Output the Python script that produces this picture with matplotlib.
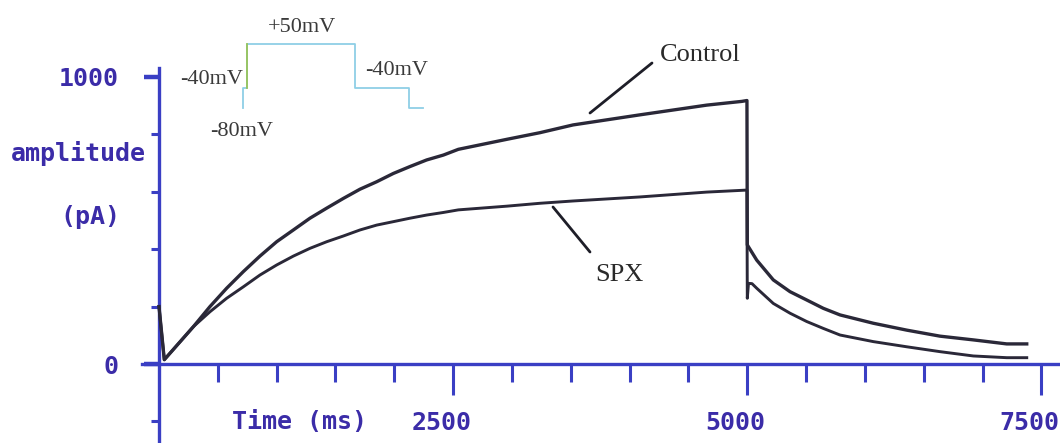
import matplotlib
matplotlib.use("Agg")
import matplotlib.pyplot as plt
from matplotlib.ticker import FixedLocator
from matplotlib.transforms import ScaledTranslation

# ---------------- data ----------------
control_t = [0, 45, 292, 433, 575, 717, 858, 1000, 1142, 1283, 1425, 1567, 1708, 1850,
             1992, 2133, 2275, 2417, 2544, 2958, 3238, 3519, 4085, 4655, 4953, 4997,
             5000, 5080, 5221, 5363, 5505, 5646, 5788, 6071, 6355, 6638, 6921, 7205, 7375]
control_pA = [200, 15, 130, 200, 264, 322, 376, 426, 467, 508, 543, 577, 609, 635,
              664, 688, 711, 728, 748, 783, 806, 833, 868, 902, 915, 918,
              415, 362, 293, 252, 223, 194, 171, 142, 118, 97, 84, 70, 70]

spx_t = [0, 45, 292, 433, 575, 717, 858, 1000, 1142, 1283, 1425, 1567, 1708, 1850,
         1992, 2133, 2275, 2417, 2544, 2958, 3238, 3519, 4085, 4655, 4997,
         5000, 5010, 5040, 5080, 5221, 5363, 5505, 5646, 5788, 6071, 6355, 6638,
         6921, 7205, 7375]
spx_pA = [200, 15, 130, 182, 229, 269, 310, 345, 376, 403, 426, 446, 467, 484,
          496, 508, 519, 528, 537, 550, 560, 568, 582, 599, 606,
          229, 281, 280, 264, 211, 177, 148, 124, 101, 78, 60, 43,
          28, 22, 22]

# voltage protocol (inset)
protocol_t = [-200, -200, 0, 5000, 7500, 8150]
protocol_mV = [-80, -40, 50, -40, -80, -80]

x_major = [2500, 5000, 7500]
x_major_labels = ["2500", "5000", "7500"]
x_minor = [500, 1000, 1500, 2000, 3000, 3500, 4000, 4500, 5500, 6000, 6500, 7000]
y_major = [0, 1000]
y_major_labels = ["0", "1000"]
y_minor = [-200, 200, 400, 600, 800]

# ---------------- style ----------------
AXIS_BLUE = "#3a3fc4"
TEXT_BLUE = "#3b2ca8"
TRACE = "#2a2838"
MONO = "DejaVu Sans Mono"
SERIF = "Liberation Serif"

W, H = 1060, 443
fig = plt.figure(figsize=(W / 100, H / 100), dpi=100)
fig.patch.set_facecolor("white")
ax = fig.add_axes([0, 0, 1, 1])

x0px, sx = 159.0, 0.11766   # pixel of t=0, px per ms
y0px, sy = 364.0, 0.287     # pixel of 0 pA, px per pA
ax.set_xlim(-x0px / sx, (W - x0px) / sx)
ax.set_ylim(-(H - y0px) / sy, y0px / sy)

for s in ["top", "right"]:
    ax.spines[s].set_visible(False)
ax.spines["left"].set_position(("data", 0))
ax.spines["bottom"].set_position(("data", 0))
for s in ["left", "bottom"]:
    ax.spines[s].set_color(AXIS_BLUE)
    ax.spines[s].set_linewidth(2.4)
    ax.spines[s].set_zorder(1)
ax.spines["left"].set_bounds(-(H - y0px) / sy, (y0px - 68) / sy)
ax.spines["bottom"].set_bounds((142 - x0px) / sx, (W - x0px) / sx)

# x ticks
ax.xaxis.set_major_locator(FixedLocator(x_major))
ax.set_xticklabels(x_major_labels)
ax.xaxis.set_minor_locator(FixedLocator(x_minor))
ax.tick_params(axis="x", which="major", direction="out", length=22, width=2.2,
               color=AXIS_BLUE, pad=12, labelsize=18, labelcolor=TEXT_BLUE)
ax.tick_params(axis="x", which="minor", direction="out", length=13, width=2.2,
               color=AXIS_BLUE)
for lab in ax.get_xticklabels():
    lab.set_fontfamily(MONO)
    lab.set_fontweight("bold")
    lab.set_transform(lab.get_transform() + ScaledTranslation(-12 / 100, 0, fig.dpi_scale_trans))

# y ticks
ax.yaxis.set_major_locator(FixedLocator(y_major))
ax.set_yticklabels(y_major_labels)
ax.yaxis.set_minor_locator(FixedLocator(y_minor))
ax.tick_params(axis="y", which="major", direction="out", length=11, width=3.2,
               color=AXIS_BLUE, pad=18, labelsize=18, labelcolor=TEXT_BLUE)
ax.tick_params(axis="y", which="minor", direction="out", length=6, width=2.2,
               color=AXIS_BLUE)
for lab in ax.get_yticklabels():
    lab.set_fontfamily(MONO)
    lab.set_fontweight("bold")

# axis titles
def px2data(px, py):
    return (px - x0px) / sx, (y0px - py) / sy

tx, ty = px2data(300, 422)
ax.text(tx, ty, "Time (ms)", family=MONO, weight="bold", fontsize=18,
        color=TEXT_BLUE, ha="center", va="center")
tx, ty = px2data(78.5, 153)
ax.text(tx, ty, "amplitude", family=MONO, weight="bold", fontsize=18,
        color=TEXT_BLUE, ha="center", va="center")
tx, ty = px2data(90, 217)
ax.text(tx, ty, "(pA)", family=MONO, weight="bold", fontsize=18,
        color=TEXT_BLUE, ha="center", va="center")

# traces
ax.plot(control_t, control_pA, color=TRACE, lw=2.4, solid_joinstyle="round", zorder=3)
ax.plot(spx_t, spx_pA, color=TRACE, lw=2.1, solid_joinstyle="round", zorder=3)

# annotations
p1 = px2data(652, 63); p2 = px2data(590, 113)
ax.annotate("", xy=p2, xytext=p1,
            arrowprops=dict(arrowstyle="-", lw=2.0, color="#1e1e28", shrinkA=0, shrinkB=0))
tx, ty = px2data(700, 55)
ax.text(tx, ty, "Control", family=SERIF, fontsize=19, color="#2a2a2a",
        ha="center", va="center")
p1 = px2data(553, 207); p2 = px2data(590, 252)
ax.annotate("", xy=p1, xytext=p2,
            arrowprops=dict(arrowstyle="-", lw=2.0, color="#1e1e28", shrinkA=0, shrinkB=0))
tx, ty = px2data(619, 275)
ax.text(tx, ty, "SPX", family=SERIF, fontsize=19, color="#2a2a2a",
        ha="center", va="center")

# voltage protocol inset
inset = fig.add_axes([238.4 / W, 1 - 117.9 / H, 190 / W, 83.8 / H])
inset.set_xlim(-400, 8400)
inset.set_ylim(-100, 70)
inset.axis("off")
inset.patch.set_alpha(0)
inset.plot(protocol_t, protocol_mV, drawstyle="steps-post", color="#8fcfe6", lw=1.3)
inset.plot([protocol_t[2], protocol_t[2]], [protocol_mV[1], protocol_mV[2]],
           color="#98c45a", lw=1.3)
lab_kw = dict(family=SERIF, fontsize=16, color="#3a3a3a", ha="center", va="center",
              clip_on=False)
inset.text(2546, 84, "+50mV", **lab_kw)
inset.text(-1620, -23, "-40mV", **lab_kw)
inset.text(6944, -3, "-40mV", **lab_kw)
inset.text(-231, -128, "-80mV", **lab_kw)

fig.savefig("out.png", dpi=100, facecolor="white")
